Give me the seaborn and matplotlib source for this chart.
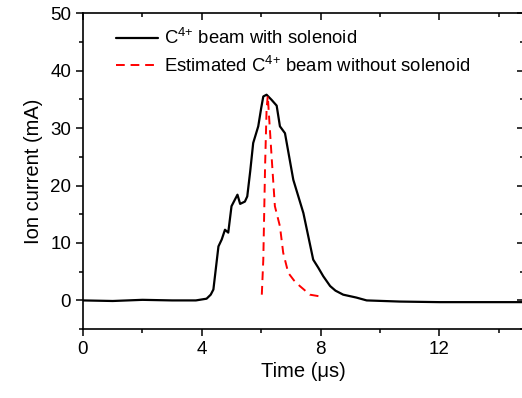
import matplotlib
matplotlib.use("Agg")
import matplotlib.pyplot as plt
from matplotlib.ticker import MultipleLocator
import seaborn as sns
import pandas as pd

# Measured beam with solenoid (time in us, current in mA)
t_with = [0.0, 1.0, 2.0, 3.0, 3.8, 4.16, 4.30, 4.39, 4.56, 4.67, 4.78, 4.89, 5.0, 5.2, 5.29,
          5.45, 5.53, 5.63, 5.73, 5.9, 6.0, 6.07, 6.18, 6.35, 6.52, 6.63, 6.8, 7.08, 7.42,
          7.75, 7.92, 8.09, 8.32, 8.5, 8.76, 9.2, 9.55, 10.67, 12.0, 13.5, 14.8]
i_with = [0.0, -0.1, 0.1, 0.0, 0.0, 0.3, 1.0, 1.9, 9.4, 10.6, 12.3, 11.8, 16.4, 18.4, 16.8,
          17.2, 18.1, 22.5, 27.4, 30.3, 33.5, 35.5, 35.8, 34.9, 33.9, 30.3, 29.1, 21.0, 15.2,
          7.1, 5.7, 4.2, 2.5, 1.7, 1.0, 0.5, 0.0, -0.2, -0.3, -0.3, -0.3]

# Estimated beam without solenoid
t_without = [6.02, 6.07, 6.13, 6.18, 6.22, 6.30, 6.35, 6.46, 6.63, 6.74, 6.91, 7.1, 7.3, 7.64, 8.09]
i_without = [1.0, 7.1, 23.3, 33.2, 35.6, 29.1, 25.0, 16.4, 12.9, 8.3, 4.8, 3.5, 2.5, 1.0, 0.6]

label_with = r"C$^{4{+}}$ beam with solenoid"
label_without = r"Estimated C$^{4{+}}$ beam without solenoid"

sns.set_style("ticks")
plt.rcParams["font.family"] = ["Liberation Sans", "DejaVu Sans"]
plt.rcParams["mathtext.fontset"] = "custom"
plt.rcParams["mathtext.rm"] = "Liberation Sans"
plt.rcParams["mathtext.it"] = "Liberation Sans"
plt.rcParams["mathtext.bf"] = "Liberation Sans"
plt.rcParams["text.color"] = "black"
plt.rcParams["axes.labelcolor"] = "black"
plt.rcParams["xtick.color"] = "black"
plt.rcParams["ytick.color"] = "black"

df_with = pd.DataFrame({"t": t_with, "i": i_with})
df_without = pd.DataFrame({"t": t_without, "i": i_without})

fig = plt.figure(figsize=(5.22, 3.98), dpi=100)
ax = fig.add_axes([0.159, 0.173, 0.845, 0.794])

sns.lineplot(data=df_with, x="t", y="i", ax=ax, color="black", lw=1.6,
             label=label_with, sort=False)
sns.lineplot(data=df_without, x="t", y="i", ax=ax, color="#ff0000", lw=1.4,
             linestyle=(0, (4.5, 3)), label=label_without, sort=False)

ax.set_xlim(0, 14.85)
ax.set_ylim(-5, 50)
ax.xaxis.set_major_locator(MultipleLocator(4))
ax.xaxis.set_minor_locator(MultipleLocator(2))
ax.yaxis.set_major_locator(MultipleLocator(10))
ax.yaxis.set_minor_locator(MultipleLocator(5))

ax.tick_params(which="both", direction="out", width=1.1, labelsize=13.5,
               top=True, right=True, colors="black")
ax.tick_params(which="major", length=5)
ax.tick_params(which="minor", length=3)
# top/right ticks pointing inwards
for tk in ax.xaxis.get_major_ticks() + ax.xaxis.get_minor_ticks():
    tk.tick2line.set_marker(matplotlib.lines.TICKDOWN)
for tk in ax.yaxis.get_major_ticks() + ax.yaxis.get_minor_ticks():
    tk.tick2line.set_marker(matplotlib.lines.TICKLEFT)

for s in ax.spines.values():
    s.set_linewidth(1.2)
    s.set_color("black")

ax.set_xlabel("Time (μs)", fontsize=14.5, labelpad=3)
ax.set_ylabel("Ion current (mA)", fontsize=14.5, labelpad=5)

leg = ax.legend(loc="upper left", bbox_to_anchor=(0.037, 1.005), frameon=False,
                fontsize=13.3, handlelength=2.25, handletextpad=0.35,
                labelspacing=0.4)
for t in leg.get_texts():
    t.set_color("black")

fig.savefig("out.png", dpi=100)
